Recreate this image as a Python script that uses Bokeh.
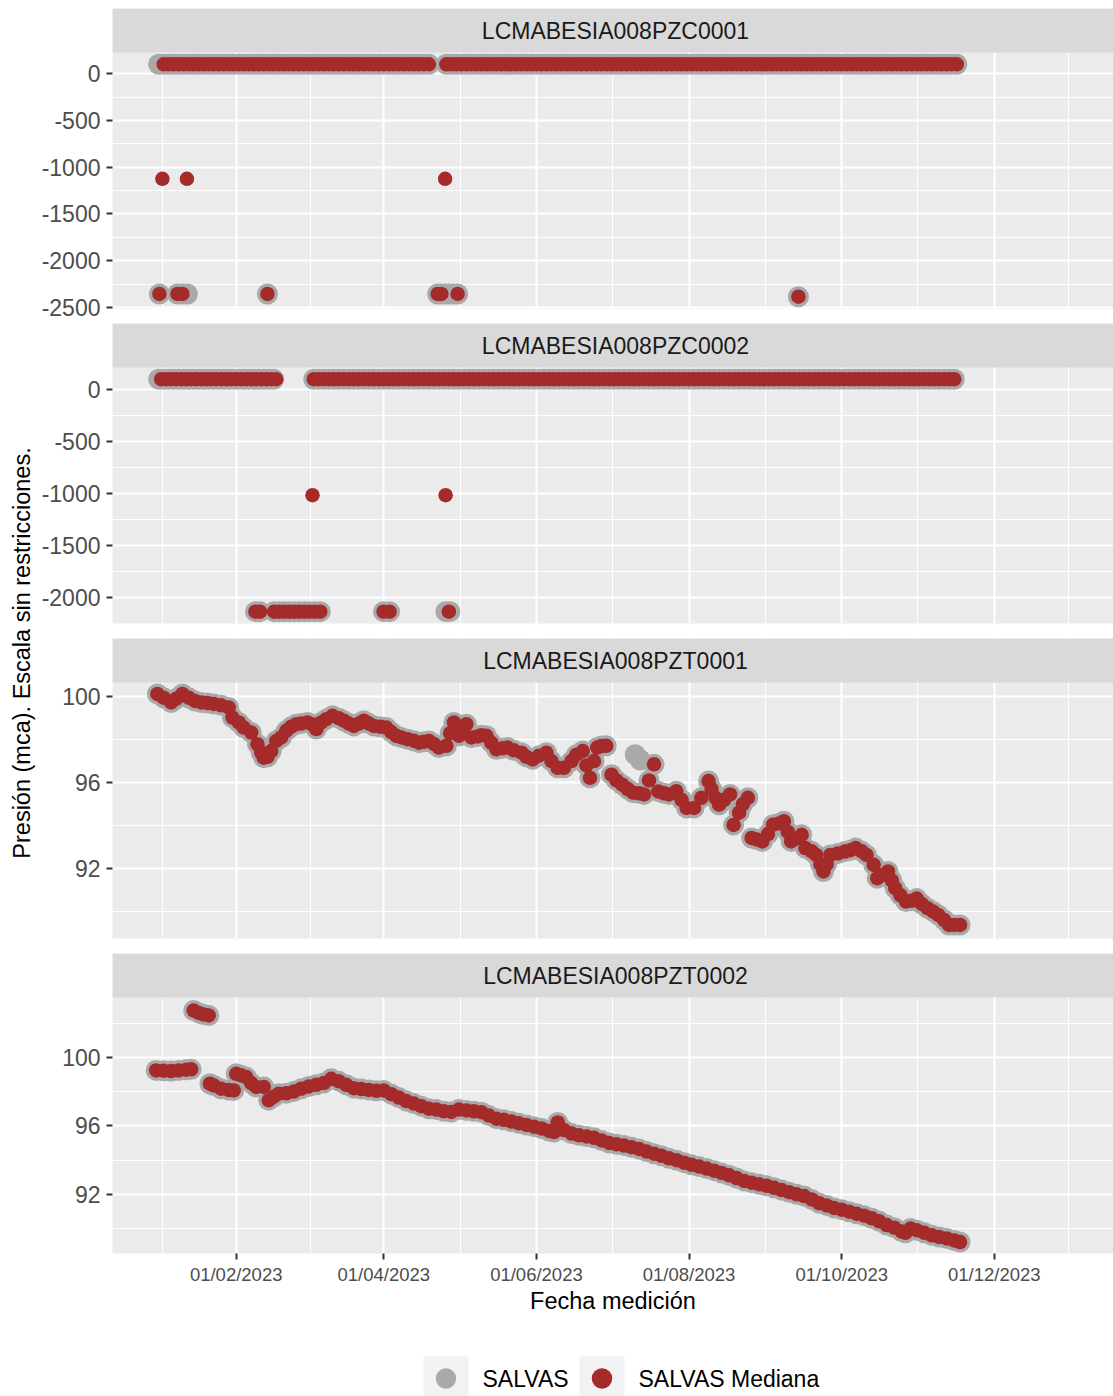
import math
import numpy as np
import pandas as pd
from bokeh.plotting import figure
from bokeh.layouts import column, row
from bokeh.models import (Range1d, FixedTicker, DatetimeTickFormatter, BoxAnnotation,
                          Label, Grid, NumeralTickFormatter)
from bokeh.embed import file_html
from bokeh.resources import INLINE
from bokeh.core.properties import value

FONT = "Liberation Sans"
GRAY = "#A9A9A9"
RED = "#A52A2A"

# ---------------------------------------------------------------- data
panel_names = ["LCMABESIA008PZC0001", "LCMABESIA008PZC0002",
               "LCMABESIA008PZT0001", "LCMABESIA008PZT0002"]
x_tick_labels = ["01/02/2023", "01/04/2023", "01/06/2023", "01/08/2023",
                 "01/10/2023", "01/12/2023"]
series_labels = ["SALVAS", "SALVAS Mediana"]
x_title = "Fecha medición"
y_title = "Presión (mca). Escala sin restricciones."
day0 = "2023-01-01"   # day offsets below are counted from this date

# --- LCMABESIA008PZC0001
pzc1_band_value = 100.0
pzc1_raw_band = [("2023-01-01", "2023-04-20"), ("2023-04-26", "2023-11-16")]
pzc1_med_band = [("2023-01-03", "2023-04-20"), ("2023-04-26", "2023-11-16")]
pzc1_raw_days = [0.3, 7.5, 9.5, 11.5, 43.5, 111.5, 113, 114.5, 116, 117.5, 119.5, 255.7]
pzc1_raw_vals = [-2355, -2355, -2355, -2355, -2355, -2355, -2355, -2355, -2355, -2355, -2355, -2384]
pzc1_med_days = [0.3, 7.5, 9.5, 43.5, 111.5, 113, 119.5, 255.7, 1.5, 11.3, 114.5]
pzc1_med_vals = [-2355, -2355, -2355, -2355, -2355, -2355, -2355, -2384, -1124, -1124, -1124]

# --- LCMABESIA008PZC0002
pzc2_band_value = 100.0
pzc2_raw_band = [("2023-01-01", "2023-02-17"), ("2023-03-04", "2023-11-16")]
pzc2_med_band = [("2023-01-02", "2023-02-17"), ("2023-03-04", "2023-11-16")]
pzc2_raw_days = [38.7, 40.5, 46.2, 48.2, 50.2, 52.2, 54.2, 56.2, 58.2, 60.2, 62.4, 64.6,
                 89.9, 92.3, 114.8, 116.4]
pzc2_raw_vals = [-2138, -2138, -2138, -2138, -2138, -2138, -2138, -2138, -2138, -2138,
                 -2138, -2138, -2138, -2138, -2138, -2138]
pzc2_med_days = [38.7, 40.5, 46.2, 48.2, 50.2, 52.2, 54.2, 56.2, 58.2, 60.2, 62.4, 64.6,
                 89.9, 92.3, 116.0, 61.5, 114.7]
pzc2_med_vals = [-2138, -2138, -2138, -2138, -2138, -2138, -2138, -2138, -2138, -2138,
                 -2138, -2138, -2138, -2138, -2138, -1016, -1016]

# --- LCMABESIA008PZT0001 (median series)
pzt1_days = [-0.5, 2, 5, 7, 9.5, 12, 14.5, 17, 19.5, 22,
             25, 28, 29.5, 32, 34, 37, 39.5, 41, 42, 43.5,
             45, 47, 49, 51, 53, 55, 57, 59.5, 61.5, 63,
             65, 67, 69.5, 72, 74, 76, 78, 80, 82, 84,
             86, 88.5, 91, 93, 95, 97, 99.5, 102, 104, 106,
             108, 110, 112, 115, 116.5, 118, 120, 121.5, 123, 125,
             127.5, 129, 131, 133, 135, 137.5, 139.5, 142, 145, 147,
             149.5, 152, 155, 157, 159.5, 162, 165, 167, 169.5, 171,
             172.4, 174, 175.3, 177, 178.9, 181, 183, 185.3, 187.5, 189.6,
             192, 194, 196, 198, 199.7, 202, 204, 206.9, 209, 211,
             214, 216.9, 219.8, 221, 222.6, 224, 226, 228.4, 229.8, 232,
             233.5, 235.5, 237, 239, 241.3, 243.5, 245.6, 248, 249.9, 251.5,
             252.8, 255, 257, 258.5, 261, 262.8, 264.5, 265.7, 267, 268.5,
             271.5, 274.3, 276.5, 278.6, 281, 282.9, 285.8, 287.2, 289.5, 291.5,
             293, 294.4, 296.5, 298.7, 301, 303, 305, 307.3, 309.5, 311.6,
             314, 315.9, 318, 320.3]
pzt1_vals = [100.13, 99.95, 99.73, 99.9, 100.13, 99.95, 99.8, 99.73, 99.7, 99.66,
             99.6, 99.5, 99.03, 98.8, 98.56, 98.33, 97.79, 97.4, 97.16, 97.2,
             97.47, 97.94, 98.1, 98.41, 98.6, 98.72, 98.75, 98.8, 98.7, 98.49,
             98.8, 98.95, 99.11, 99.0, 98.88, 98.75, 98.64, 98.75, 98.88, 98.75,
             98.64, 98.6, 98.56, 98.35, 98.18, 98.1, 98.02, 97.95, 97.86, 97.9,
             97.94, 97.8, 97.63, 97.71, 98.3, 98.8, 98.18, 98.4, 98.72, 98.1,
             98.15, 98.2, 98.18, 97.85, 97.55, 97.6, 97.63, 97.5, 97.39, 97.2,
             97.08, 97.25, 97.39, 97.0, 96.69, 96.69, 97.0, 97.3, 97.47, 96.8,
             96.22, 97.0, 97.63, 97.7, 97.71, 96.37, 96.1, 95.9, 95.7, 95.53,
             95.5, 95.45, 96.1, 96.85, 95.59, 95.5, 95.45, 95.6, 95.2, 94.82,
             94.82, 95.29, 96.07, 95.7, 95.29, 94.97, 95.2, 95.45, 94.03, 94.6,
             95.0, 95.29, 93.42, 93.35, 93.26, 93.6, 94.04, 94.1, 94.2, 93.7,
             93.26, 93.4, 93.57, 92.95, 92.8, 92.63, 92.2, 91.86, 92.2, 92.63,
             92.7, 92.79, 92.85, 92.95, 92.8, 92.63, 92.17, 91.55, 91.7, 91.86,
             91.45, 91.08, 90.75, 90.46, 90.5, 90.6, 90.35, 90.15, 90.0, 89.84,
             89.6, 89.37, 89.37, 89.37]
# raw readings that differ from the median
pzt1_raw_extra_days = [190.5, 192.5]
pzt1_raw_extra_vals = [97.3, 97.05]

# --- LCMABESIA008PZT0002 (median series; raw readings coincide)
pzt2_days = [-1, 2, 5, 8, 11, 13, 14, 16, 18, 20,
             20.5, 22, 25, 28, 30, 31, 33, 35, 37, 39,
             42, 44, 46, 48, 51, 54, 57, 60, 63, 66,
             69, 72, 75, 78, 81, 84, 87, 90, 93, 96,
             99, 102, 105, 108, 111, 114, 117, 120, 123, 126,
             129, 132, 135, 138, 141, 144, 147, 150, 153, 156,
             158, 159.5, 162, 165, 168, 171, 174, 177, 180, 183,
             186, 189, 192, 195, 198, 201, 204, 207, 210, 213,
             216, 219, 222, 225, 228, 231, 234, 237, 240, 243,
             246, 249, 252, 255, 258, 261, 264, 267, 270, 273,
             276, 279, 282, 285, 288, 291, 294, 297, 298.5, 300.5,
             303, 306, 309, 312, 315, 318, 320.3]
pzt2_vals = [99.24, 99.22, 99.2, 99.24, 99.28, 99.3, 102.74, 102.6, 102.5, 102.45,
             98.46, 98.36, 98.17, 98.1, 98.07, 99.04, 98.95, 98.85, 98.5, 98.27,
             98.27, 97.5, 97.7, 97.88, 97.9, 98.0, 98.17, 98.3, 98.4, 98.5,
             98.75, 98.6, 98.4, 98.2, 98.15, 98.1, 98.05, 98.07, 97.85, 97.65,
             97.45, 97.3, 97.15, 97.0, 96.95, 96.85, 96.81, 96.95, 96.9, 96.85,
             96.8, 96.6, 96.42, 96.35, 96.25, 96.15, 96.05, 95.95, 95.85, 95.7,
             95.64, 96.2, 95.75, 95.55, 95.45, 95.38, 95.3, 95.15, 95.0, 94.92,
             94.85, 94.75, 94.65, 94.5, 94.37, 94.25, 94.1, 93.99, 93.85, 93.72,
             93.62, 93.5, 93.38, 93.25, 93.11, 92.95, 92.78, 92.68, 92.58, 92.5,
             92.38, 92.25, 92.12, 92.0, 91.9, 91.7, 91.48, 91.35, 91.2, 91.1,
             90.98, 90.86, 90.75, 90.6, 90.42, 90.2, 90.05, 89.82, 89.75, 90.0,
             89.9, 89.75, 89.6, 89.5, 89.42, 89.3, 89.21]

# axis set-up (free y scales per facet)
x_limits = ("2022-12-13 13:30", "2024-01-17 15:20")
strip_label_date = "2023-07-02 14:00"
y_limits = [(-2510, 226), (-2252, 213), (88.74, 100.66), (88.54, 103.5)]
y_major = [[0, -500, -1000, -1500, -2000, -2500],
           [0, -500, -1000, -1500, -2000],
           [100, 96, 92],
           [100, 96, 92]]
y_minor = [[-250, -750, -1250, -1750, -2250],
           [-250, -750, -1250, -1750],
           [98, 94, 90],
           [102, 98, 94, 90]]

# ---------------------------------------------------------------- helpers
BASE = pd.Timestamp(day0)


def to_dates(days):
    return BASE + pd.to_timedelta(np.asarray(days, dtype=float), unit="D")


def band_dates(segments):
    return pd.DatetimeIndex(np.concatenate(
        [pd.date_range(a, b, freq="2D").values for a, b in segments]))


def ms(ts):
    return pd.Timestamp(ts).value / 1e6


raw_series = []
med_series = []
# panel 1
bx = band_dates(pzc1_raw_band)
raw_series.append((np.concatenate([bx.values, to_dates(pzc1_raw_days).values]),
                   np.concatenate([np.full(len(bx), pzc1_band_value), pzc1_raw_vals])))
bx = band_dates(pzc1_med_band)
med_series.append((np.concatenate([bx.values, to_dates(pzc1_med_days).values]),
                   np.concatenate([np.full(len(bx), pzc1_band_value), pzc1_med_vals])))
# panel 2
bx = band_dates(pzc2_raw_band)
raw_series.append((np.concatenate([bx.values, to_dates(pzc2_raw_days).values]),
                   np.concatenate([np.full(len(bx), pzc2_band_value), pzc2_raw_vals])))
bx = band_dates(pzc2_med_band)
med_series.append((np.concatenate([bx.values, to_dates(pzc2_med_days).values]),
                   np.concatenate([np.full(len(bx), pzc2_band_value), pzc2_med_vals])))
# panel 3
raw_series.append((to_dates(pzt1_days + pzt1_raw_extra_days).values,
                   np.array(pzt1_vals + pzt1_raw_extra_vals)))
med_series.append((to_dates(pzt1_days).values, np.array(pzt1_vals)))
# panel 4
raw_series.append((to_dates(pzt2_days).values, np.array(pzt2_vals)))
med_series.append((to_dates(pzt2_days).values, np.array(pzt2_vals)))

# ---------------------------------------------------------------- layout constants
TOTAL_W = 1113
TOP_PAD = 8
STRIP_H = 44
PLOT_H = 256
GAP = 15
XAXIS_H = 77
LEFT_W = 36
COL_W = TOTAL_W - LEFT_W
BORDER_L = 112 - LEFT_W
LEG_H = 66

x_dates = pd.to_datetime(x_tick_labels, format="%d/%m/%Y")
major_ms = [ms(d) for d in x_dates]
# ggplot-style minor breaks: midpoints, extended by one break step on each side
step = x_dates[1] - x_dates[0]
ext = [x_dates[0] - step] + list(x_dates) + [x_dates[-1] + step]
minor_ms = [ms(a + (b - a) / 2) for a, b in zip(ext[:-1], ext[1:])]
x_ticker = FixedTicker(ticks=major_ms, minor_ticks=minor_ms)
x_range = Range1d(pd.Timestamp(x_limits[0]), pd.Timestamp(x_limits[1]))

panels = []
for i, name in enumerate(panel_names):
    first = i == 0
    last = i == len(panel_names) - 1
    ymin, ymax = y_limits[i]
    ytop = ymax + (ymax - ymin) * STRIP_H / PLOT_H
    bottom = XAXIS_H if last else GAP
    top = TOP_PAD if first else 0
    p = figure(width=COL_W, height=top + STRIP_H + PLOT_H + bottom,
               x_axis_type="datetime", x_range=x_range, y_range=Range1d(ymin, ytop),
               x_axis_location="below" if last else None,
               output_backend="svg", toolbar_location=None,
               min_border_left=BORDER_L, min_border_right=0,
               min_border_top=top, min_border_bottom=bottom,
               background_fill_color="#EBEBEB", border_fill_color="white",
               outline_line_color=None)
    for g in list(p.grid):
        g.visible = False
    y_ticker = FixedTicker(ticks=y_major[i], minor_ticks=y_minor[i])
    p.add_layout(Grid(dimension=0, ticker=x_ticker, grid_line_color="white",
                      grid_line_width=2, minor_grid_line_color="white",
                      minor_grid_line_width=1), "center")
    p.add_layout(Grid(dimension=1, ticker=y_ticker, grid_line_color="white",
                      grid_line_width=2, minor_grid_line_color="white",
                      minor_grid_line_width=1), "center")

    yax = p.yaxis[0]
    yax.ticker = y_ticker
    yax.formatter = NumeralTickFormatter(format="0")
    yax.axis_line_color = None
    yax.major_tick_in = 0
    yax.major_tick_out = 6
    yax.major_tick_line_color = "#333333"
    yax.major_tick_line_width = 2
    yax.minor_tick_line_color = None
    yax.major_label_text_font = FONT
    yax.major_label_text_font_size = "23px"
    yax.major_label_text_color = "#4D4D4D"
    yax.major_label_standoff = 6

    if last:
        xax = p.xaxis[0]
        xax.ticker = x_ticker
        fmt = "%d/%m/%Y"
        xax.formatter = DatetimeTickFormatter(days=fmt, months=fmt, years=fmt,
                                              hours=fmt, hourmin=fmt, minutes=fmt)
        xax.axis_line_color = None
        xax.major_tick_in = 0
        xax.major_tick_out = 6
        xax.major_tick_line_color = "#333333"
        xax.major_tick_line_width = 2
        xax.minor_tick_line_color = None
        xax.major_label_text_font = FONT
        xax.major_label_text_font_size = "18.5px"
        xax.major_label_text_color = "#4D4D4D"
        xax.major_label_standoff = 4
        xax.axis_label = x_title
        xax.axis_label_text_font = FONT
        xax.axis_label_text_font_size = "23.5px"
        xax.axis_label_text_font_style = "normal"
        xax.axis_label_text_color = "black"
        xax.axis_label_standoff = 0

    rx, ry = raw_series[i]
    mx, my = med_series[i]
    p.scatter(rx, ry, size=21, fill_color=GRAY, line_color=None)
    p.scatter(mx, my, size=14.5, fill_color=RED, line_color=None)

    p.add_layout(BoxAnnotation(bottom=ymax, fill_color="#D9D9D9", fill_alpha=1.0,
                               line_color=None))
    p.add_layout(Label(x=ms(strip_label_date), y=(ymax + ytop) / 2, text=name,
                       text_align="center", text_baseline="middle",
                       text_font=FONT, text_font_size="23px", text_color="#1A1A1A"))
    panels.append(p)

col_h = TOP_PAD + 3 * (STRIP_H + PLOT_H + GAP) + STRIP_H + PLOT_H + XAXIS_H

# y-axis title (centred on the panel area)
yt = figure(width=LEFT_W, height=col_h, x_range=Range1d(0, LEFT_W),
            y_range=Range1d(0, col_h), x_axis_location=None, y_axis_location=None,
            output_backend="svg", toolbar_location=None, min_border=0,
            outline_line_color=None, background_fill_color="white",
            border_fill_color="white")
for g in list(yt.grid):
    g.visible = False
yt.text(x=[21], y=[col_h - 652.5], text=[y_title], angle=math.pi / 2,
        text_align="center", text_baseline="middle", text_font=value(FONT),
        text_font_size="23.5px", text_color="black")

# legend
leg = figure(width=TOTAL_W, height=LEG_H, x_range=Range1d(0, TOTAL_W), y_range=Range1d(0, LEG_H),
             x_axis_location=None, y_axis_location=None, output_backend="svg",
             toolbar_location=None, min_border=0, outline_line_color=None,
             background_fill_color="white", border_fill_color="white")
for g in list(leg.grid):
    g.visible = False
key_left = [423, 579]
key_w = 45
leg.quad(left=key_left, right=[k + key_w for k in key_left], bottom=[-5, -5], top=[40, 40],
         fill_color="#F2F2F2", line_color=None)
leg.scatter(x=[k + key_w / 2 for k in key_left], y=[18, 18], size=20.5,
            fill_color=[GRAY, RED], line_color=None)
leg.text(x=[k + key_w + 14 for k in key_left], y=[18, 18], text=series_labels,
         text_align="left", text_baseline="middle", text_font=value(FONT),
         text_font_size="23px", text_color="black")

layout = column(row(yt, column(*panels)), leg)

with open("out.html", "w") as f:
    f.write(file_html(layout, INLINE))
